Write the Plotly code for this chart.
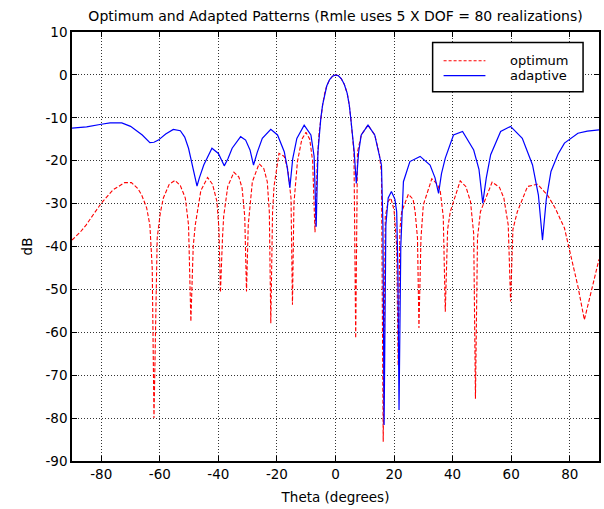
import plotly.graph_objects as go

# ---- data ----
theta_opt = [-90, -87, -85.2, -82, -80, -76, -72, -69.7, -67.5, -66.2, -64.5, -63.4, -62.6, -62, -61.2, -60.9,
             -59.8, -58.8, -56.8, -54.8, -53, -51.3, -50.2, -49.4, -48.6, -47.9, -46, -43.7, -42, -40.5, -39.8,
             -39.3, -38.6, -38.2, -36.8, -34.7, -33, -31.9, -31, -30.4, -29.8, -28.4, -26.1, -24.5, -23.3, -22.6,
             -22.1, -21.5, -21, -19.3, -17.5, -16.3, -15.2, -14.7, -14.2, -13, -11.5, -10.1, -8.8, -7.8, -7,
             -6.2, -5.6, -5, -4.4, -3.7, -3, -2, -1, 0, 1, 2, 3, 4, 4.7, 5.2, 5.7, 6.3, 6.9, 7.5, 8.8, 11.1,
             13.4, 15, 15.7, 16.3, 17, 18,
             18.9, 20, 20.9, 21.4, 22, 22.6, 24.9, 26.5, 27.2, 28, 28.5, 29.2, 30, 32.9, 34.8, 35.8, 36.8, 37.5,
             38.3, 39.2, 42.6, 44.5, 46.1, 47.2, 47.8, 48.5, 49.5, 53.5, 56, 57.5, 59, 59.8, 60.6, 62.1, 65.6,
             69, 72.4, 75, 78.2, 81, 82.8, 85, 87.5, 90]
db_opt = [-38.5, -36.5, -35, -32, -29.9, -26.8, -25.1, -25.1, -26.5, -28, -31, -35, -45, -80, -45, -38,
          -32, -28.7, -25.5, -24.6, -25.8, -28.7, -35, -57.5, -40, -35, -27, -23.9, -25.5, -29.5, -36,
          -50.7, -38, -33, -26, -22.7, -23.8, -26.4, -33, -50.5, -35, -24.9, -20.7, -21.8, -24.9, -32,
          -57.9, -32, -26, -18.3, -19, -22, -28.7, -53.6, -30, -20.2, -15, -13.4, -15, -20.2, -36.7,
          -20, -13.5, -10, -7, -4.3, -2.6, -1.1, -0.3, 0, -0.2, -0.9, -2.2, -4.3, -7, -10, -13.5, -18, -61.4,
          -18, -14, -11.7, -14, -18.5, -23, -85.5, -33, -29.5,
          -28.7, -31.5, -40, -67.8, -36, -31.9, -27.8, -29, -31.9, -38, -59, -38, -30.3, -24.2, -25.5, -27.2, -33, -55.2,
          -36, -31.9, -24.7, -26, -29.5, -37, -75.5, -38, -31.9, -25, -26.2, -28.7, -35, -52.8, -36, -31.9, -26,
          -25.5, -28, -31, -35.7, -44, -49.3, -57.1, -50, -43]

theta_adp = [-90, -85, -80, -77, -73, -70, -66, -63.4, -62, -60.5, -58, -55.4, -53, -51.5, -50.2, -48.8, -47.3,
             -46.5, -45, -42.2, -40, -38, -36.7, -35.3, -32.4, -30.7, -29.2, -28, -26.7, -25, -22.1, -19.8,
             -17.5, -16.5, -15.6, -14.6, -13.2, -10.7, -8.4, -7.3, -6.6, -6, -5.5, -5, -4.4, -3.7, -3, -2, -1,
             0, 1, 2, 3, 4, 4.7, 5.2, 5.7, 6.4, 7.1, 7.9, 8.8, 11.1, 13.4, 15.7, 16.2, 16.6, 17.2, 18, 19.1,
             20.3, 20.9, 21.3, 21.7,
             22.3, 23.2, 25.4, 28.9, 32.3, 34, 35.2, 36.2, 37.5, 40.3, 43.4, 47.2, 49, 50.3, 51.5, 53, 56.4,
             59.8, 63.8, 67.3, 69.3, 70.7, 72, 73.6, 76, 78.2, 82.8, 86, 90]
db_adp = [-12.4, -12.1, -11.5, -11.2, -11.2, -12, -14, -15.8, -15.7, -15.2, -13.8, -12.7, -13, -14.5, -17.1,
          -21.5, -25.9, -24, -21, -17.1, -18.3, -21.2, -19.5, -17.1, -14.4, -15.2, -17.5, -21, -18, -14.8,
          -12.7, -14, -17.9, -21.5, -26.3, -19.5, -14.8, -11.7, -14, -19, -35.4, -18, -13.3, -10, -7, -4.3,
          -2.6, -1.1, -0.3, 0, -0.2, -0.9, -2.2, -4.3, -7, -10, -13.5, -18, -25.3, -18, -14, -11.7, -14, -21,
          -35, -81.6, -35, -28.7, -27.2, -29,
          -31.9, -45, -78.1, -40, -24.9, -20.2, -19, -21, -24, -27.6, -23, -19.4, -14, -13.2, -17.5, -22,
          -29.9, -24, -18.6, -13.2, -12, -14.8, -21, -28, -38.5, -29, -22.5, -18.5, -15.9, -13.6, -13.1, -12.8]

x_ticks = [-80, -60, -40, -20, 0, 20, 40, 60, 80]
y_ticks = [10, 0, -10, -20, -30, -40, -50, -60, -70, -80, -90]

series_names = ["optimum", "adaptive"]
series_colors = ["#ff0000", "#0000ff"]
title_text = "Optimum and Adapted Patterns (Rmle uses 5 X DOF = 80 realizations)"

FONT = "DejaVu Sans, Arial, sans-serif"
W, H = 604, 509
ML, MR, MT, MB = 72, 3, 32, 48


def px(x):
    return (x - ML) / (W - ML - MR)


def py(y):
    return 1 - (y - MT) / (H - MT - MB)


fig = go.Figure()
fig.add_trace(go.Scatter(x=theta_opt, y=db_opt, mode="lines", name=series_names[0],
                         line=dict(color=series_colors[0], width=1.1, dash="4px,2px"), showlegend=False))
fig.add_trace(go.Scatter(x=theta_adp, y=db_adp, mode="lines", name=series_names[1],
                         line=dict(color=series_colors[1], width=1.2), showlegend=False))

axis_common = dict(showline=True, linecolor="black", linewidth=1.5, mirror="ticks",
                   ticks="inside", ticklen=5, tickcolor="black", tickwidth=1,
                   showgrid=True, gridcolor="#333333", gridwidth=1, griddash="1px,2px",
                   zeroline=False, tickfont=dict(family=FONT, size=13.5, color="black"))

fig.update_xaxes(range=[-90, 90], tickvals=x_ticks, ticktext=[str(v) for v in x_ticks],
                 title=dict(text="Theta (degrees)", font=dict(family=FONT, size=13.5, color="black"), standoff=12),
                 **axis_common)
fig.update_yaxes(range=[-90, 10], tickvals=y_ticks, ticktext=[str(v) for v in y_ticks],
                 title=dict(text="dB", font=dict(family=FONT, size=13.5, color="black"), standoff=10),
                 **axis_common)

# manual legend (box, sample lines, labels)
shapes = [dict(type="rect", xref="paper", yref="paper", x0=px(434), x1=px(585), y0=py(42.5), y1=py(91.7),
               line=dict(color="black", width=1.5), fillcolor="white", layer="above")]
annotations = []
legend_rows = [60.7, 75.7]
dashes = ["3px,2px", "solid"]
widths = [1.1, 1.2]
for name, color, yy, dsh, wd in zip(series_names, series_colors, legend_rows, dashes, widths):
    shapes.append(dict(type="line", xref="paper", yref="paper", x0=px(445), x1=px(487), y0=py(yy), y1=py(yy),
                       line=dict(color=color, width=wd, dash=dsh), layer="above"))
    annotations.append(dict(text=name, xref="paper", yref="paper", x=px(510), y=py(yy), xanchor="left",
                            yanchor="middle", showarrow=False,
                            font=dict(family=FONT, size=13, color="black")))

fig.update_layout(
    width=W, height=H,
    margin=dict(l=ML, r=MR, t=MT, b=MB),
    paper_bgcolor="white", plot_bgcolor="white",
    title=dict(text=title_text, x=0.5, xref="paper", xanchor="center", y=1 - 16 / H, yanchor="middle",
               yref="container", font=dict(family=FONT, size=14, color="black")),
    shapes=shapes, annotations=annotations,
    showlegend=False,
)

fig.write_html("out.html")
